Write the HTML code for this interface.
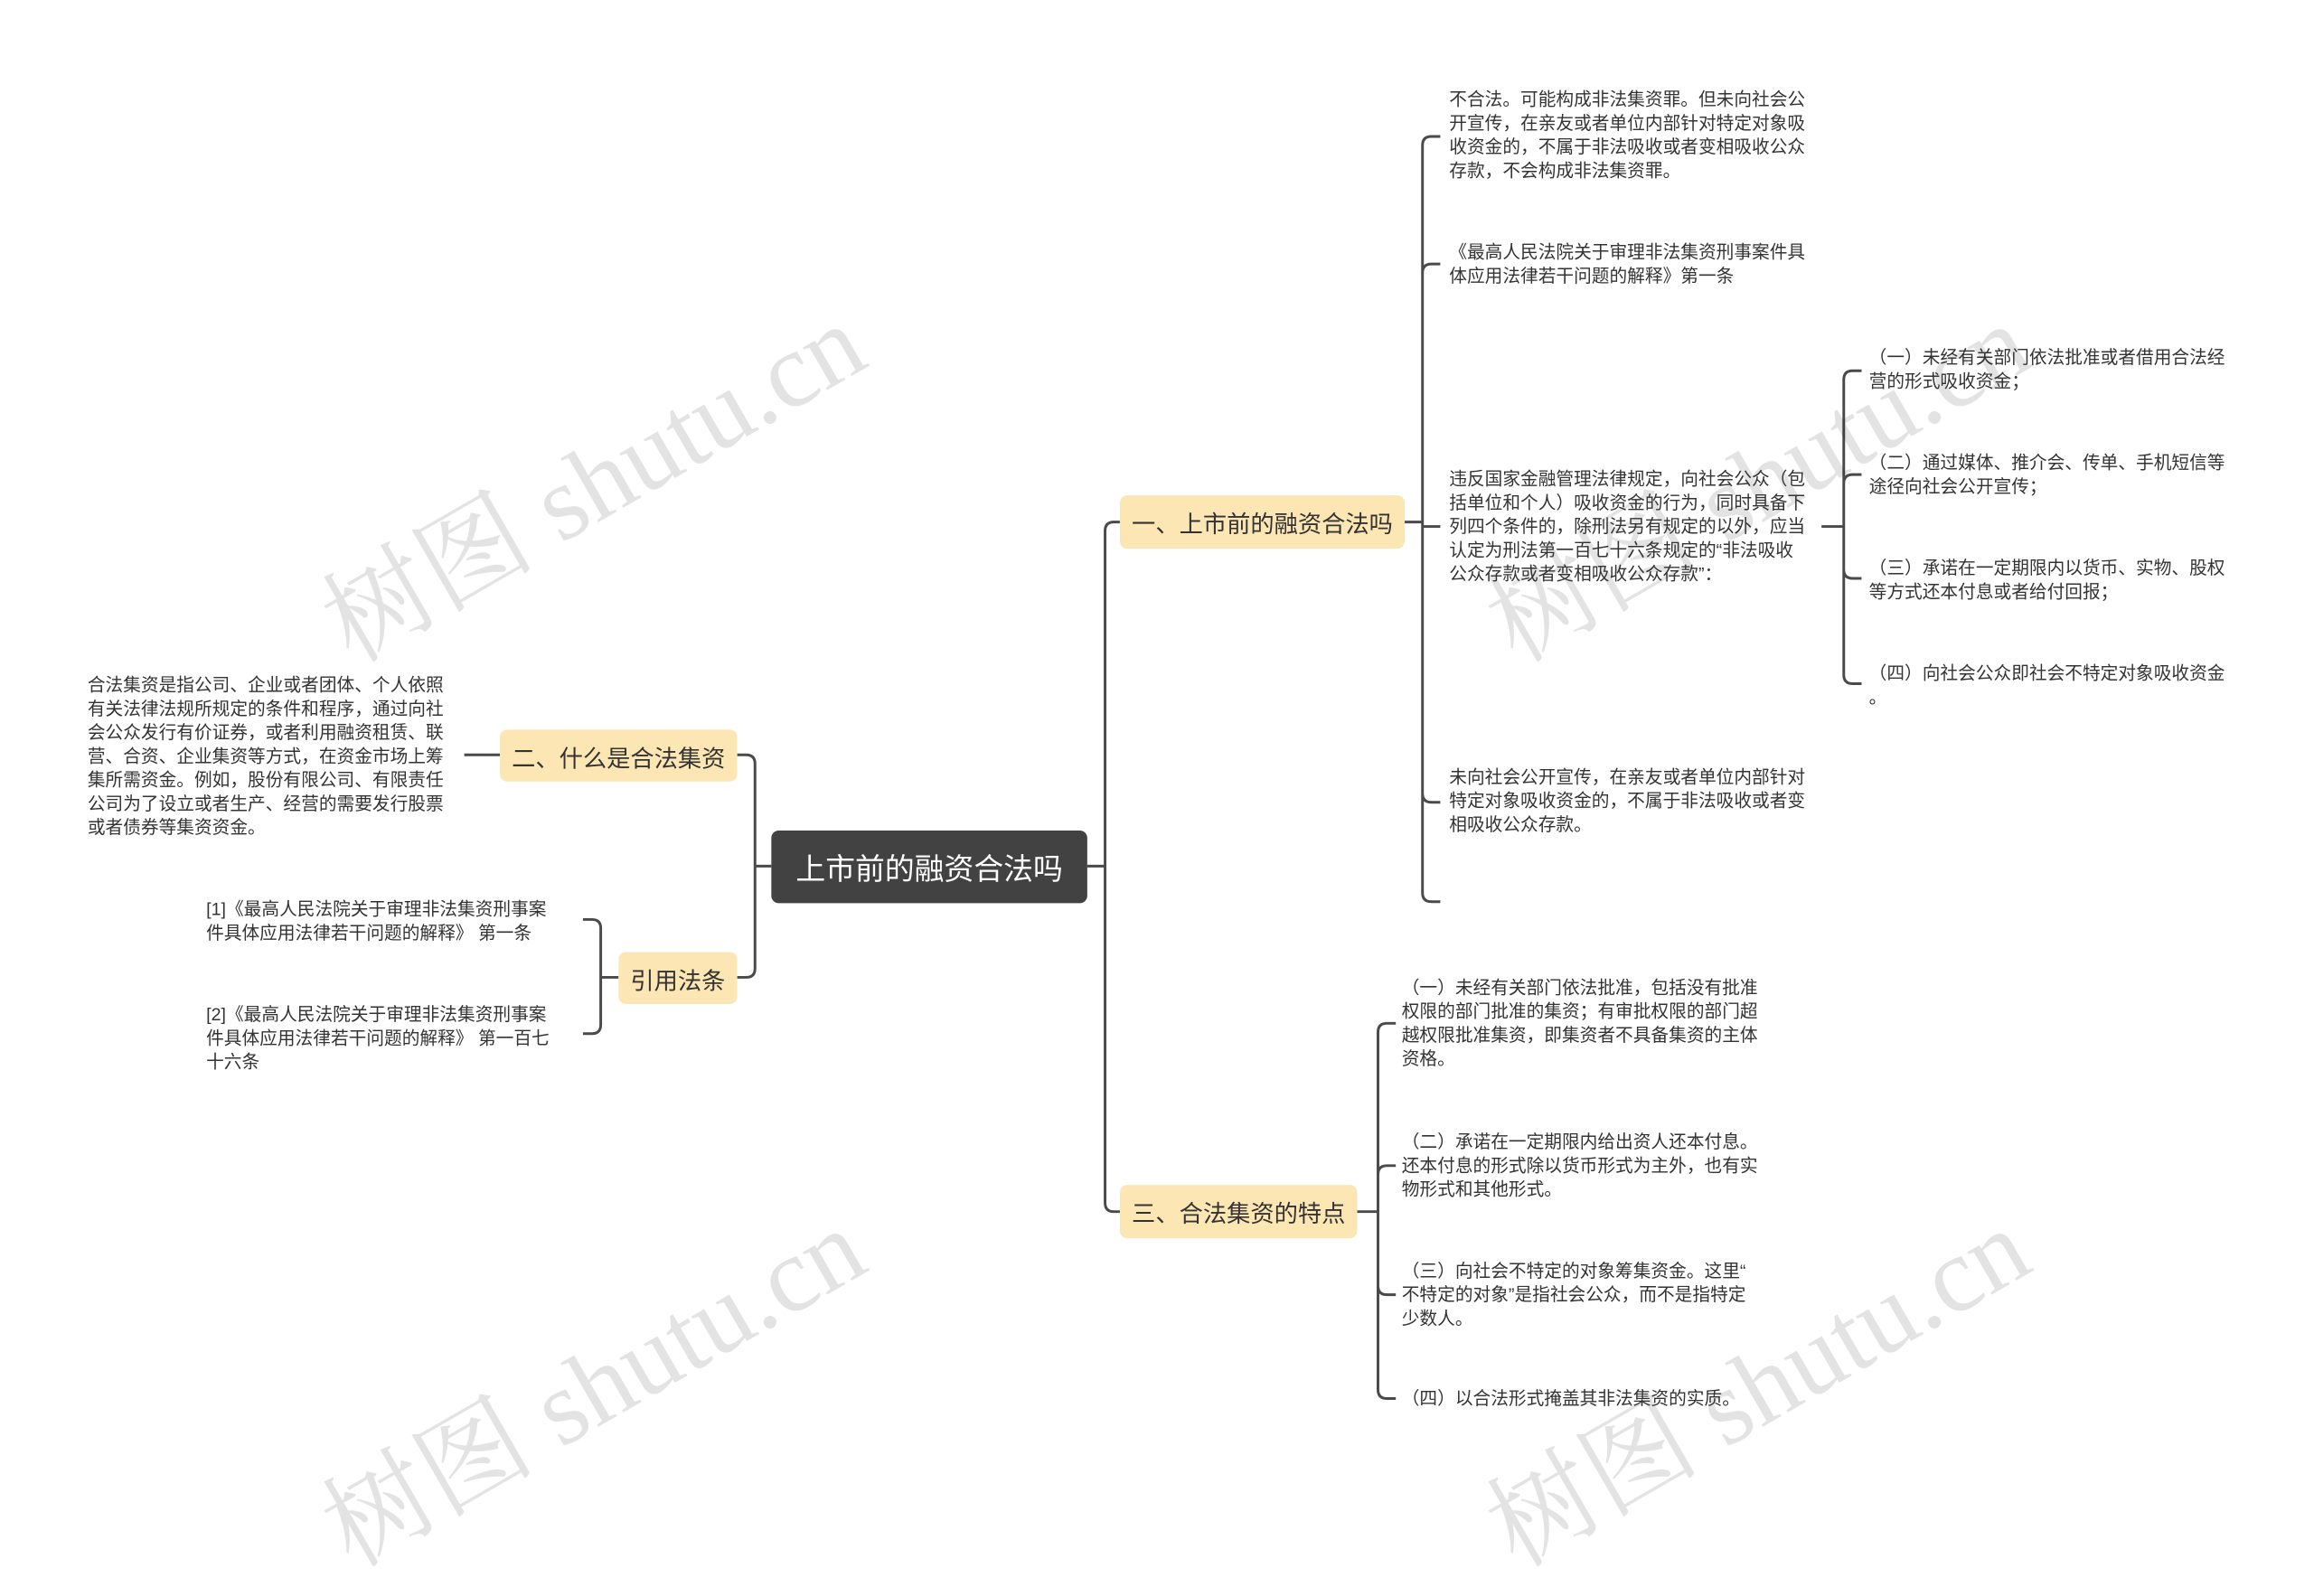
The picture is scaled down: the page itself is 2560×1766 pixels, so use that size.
<!DOCTYPE html>
<html><head><meta charset="utf-8"><style>
html,body{margin:0;padding:0;background:#fff;width:2560px;height:1651px;overflow:hidden}
#c{position:absolute;left:0;top:0;width:1560px;height:1006px;transform:scale(1.641);transform-origin:0 0;font-family:"Liberation Sans","Noto Sans CJK SC",sans-serif}
.t{position:absolute;font-size:12px;line-height:16px;color:#333;white-space:nowrap}
.n{position:absolute;background:#fce6b3;border-radius:5px;color:#333;font-size:16px;display:flex;align-items:center;justify-content:center;white-space:nowrap}
.wm{position:absolute;font-size:72px;color:rgba(0,0,0,0.11);white-space:nowrap;transform:rotate(-30deg);transform-origin:50% 50%;font-family:"Liberation Serif","Noto Serif CJK SC",serif}
svg{position:absolute;left:0;top:0}
</style></head><body><div id="c">
<svg width="1560" height="1006" viewBox="0 0 1560 1006" fill="none" stroke="#4a4a4a" stroke-width="1.8">
<path d="M520 584H509M509 584V515Q509 509 503 509H497M509 584V653Q509 659 503 659H497"/>
<path d="M337 509H313"/>
<path d="M417 659H405M405 659V626Q405 620 399 620H393M405 659V691Q405 697 399 697H393"/>
<path d="M733 584H745M745 584V358Q745 352 751 352H755M745 584V811Q745 817 751 817H755"/>
<path d="M947 352H959M959 352V98Q959 92 965 92H971M959 352V184Q959 178 965 178H971M959 355H971M959 352V535Q959 541 965 541H971M959 352V602Q959 608 965 608H971"/>
<path d="M1228 355H1243M1243 355V256Q1243 250 1249 250H1255M1243 355V326Q1243 320 1249 320H1255M1243 355V384Q1243 390 1249 390H1255M1243 355V455Q1243 461 1249 461H1255"/>
<path d="M915 817H929M929 817V696Q929 690 935 690H941M929 817V792Q929 786 935 786H941M929 817V867Q929 873 935 873H941M929 817V937Q929 943 935 943H941"/>
</svg>
<div class="wm" style="left:195px;top:268px">树图 shutu.cn</div>
<div class="wm" style="left:195px;top:878px">树图 shutu.cn</div>
<div class="wm" style="left:980px;top:268px">树图 shutu.cn</div>
<div class="wm" style="left:980px;top:878px">树图 shutu.cn</div>
<div class="n" style="left:520px;top:560px;width:213px;height:49px;background:#424242;color:#fff;font-size:20px">上市前的融资合法吗</div>
<div class="n" style="left:337px;top:492px;width:160px;height:35px">二、什么是合法集资</div>
<div class="n" style="left:417px;top:642px;width:80px;height:35px">引用法条</div>
<div class="n" style="left:755px;top:334px;width:192px;height:36px">一、上市前的融资合法吗</div>
<div class="n" style="left:755px;top:799px;width:160px;height:36px">三、合法集资的特点</div>
<div class="t" style="left:59px;top:454px">合法集资是指公司、企业或者团体、个人依照<br>有关法律法规所规定的条件和程序，通过向社<br>会公众发行有价证券，或者利用融资租赁、联<br>营、合资、企业集资等方式，在资金市场上筹<br>集所需资金。例如，股份有限公司、有限责任<br>公司为了设立或者生产、经营的需要发行股票<br>或者债券等集资资金。</div>
<div class="t" style="left:139px;top:605px">[1]《最高人民法院关于审理非法集资刑事案<br>件具体应用法律若干问题的解释》 第一条</div>
<div class="t" style="left:139px;top:676px">[2]《最高人民法院关于审理非法集资刑事案<br>件具体应用法律若干问题的解释》 第一百七<br>十六条</div>
<div class="t" style="left:977px;top:59px">不合法。可能构成非法集资罪。但未向社会公<br>开宣传，在亲友或者单位内部针对特定对象吸<br>收资金的，不属于非法吸收或者变相吸收公众<br>存款，不会构成非法集资罪。</div>
<div class="t" style="left:977px;top:162px">《最高人民法院关于审理非法集资刑事案件具<br>体应用法律若干问题的解释》第一条</div>
<div class="t" style="left:977px;top:315px">违反国家金融管理法律规定，向社会公众（包<br>括单位和个人）吸收资金的行为，同时具备下<br>列四个条件的，除刑法另有规定的以外，应当<br>认定为刑法第一百七十六条规定的“非法吸收<br>公众存款或者变相吸收公众存款”：</div>
<div class="t" style="left:977px;top:516px">未向社会公开宣传，在亲友或者单位内部针对<br>特定对象吸收资金的，不属于非法吸收或者变<br>相吸收公众存款。</div>
<div class="t" style="left:1260px;top:233px">（一）未经有关部门依法批准或者借用合法经<br>营的形式吸收资金；</div>
<div class="t" style="left:1260px;top:304px">（二）通过媒体、推介会、传单、手机短信等<br>途径向社会公开宣传；</div>
<div class="t" style="left:1260px;top:375px">（三）承诺在一定期限内以货币、实物、股权<br>等方式还本付息或者给付回报；</div>
<div class="t" style="left:1260px;top:446px">（四）向社会公众即社会不特定对象吸收资金<br>。</div>
<div class="t" style="left:945px;top:658px">（一）未经有关部门依法批准，包括没有批准<br>权限的部门批准的集资；有审批权限的部门超<br>越权限批准集资，即集资者不具备集资的主体<br>资格。</div>
<div class="t" style="left:945px;top:762px">（二）承诺在一定期限内给出资人还本付息。<br>还本付息的形式除以货币形式为主外，也有实<br>物形式和其他形式。</div>
<div class="t" style="left:945px;top:849px">（三）向社会不特定的对象筹集资金。这里“<br>不特定的对象”是指社会公众，而不是指特定<br>少数人。</div>
<div class="t" style="left:945px;top:935px">（四）以合法形式掩盖其非法集资的实质。</div>
</div></body></html>
